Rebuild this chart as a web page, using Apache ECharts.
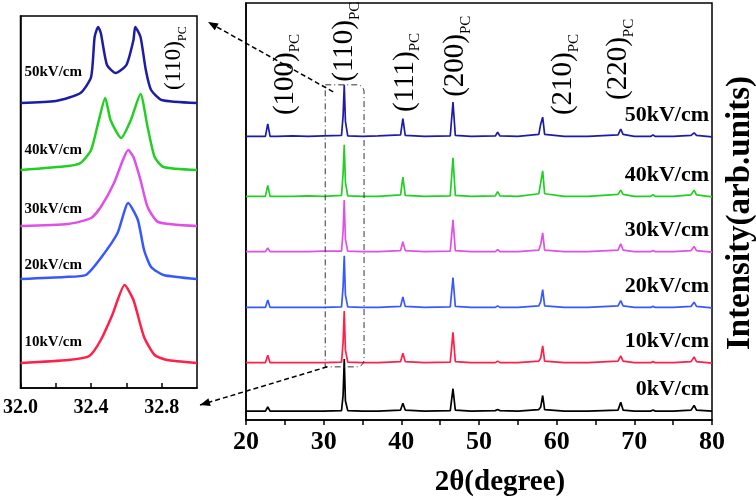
<!DOCTYPE html>
<html>
<head>
<meta charset="utf-8">
<script src="https://cdn.jsdelivr.net/npm/echarts/dist/echarts.min.js"></script>
<style>
html, body { margin: 0; padding: 0; background: #fff; }
#chart { width: 756px; height: 500px; }
</style>
</head>
<body>
<div id="chart"></div>
<script>
const serif = '"Liberation Serif", "Times New Roman", serif';

// 2θ sample points of the full patterns
const twoTheta = [20, 22.5, 22.8, 23.1, 24, 26, 28, 30,
  32.3, 32.5, 32.65, 32.8, 33.1, 35, 37,
  39.9, 40.2, 40.5, 43, 46.3, 46.65, 46.95, 49,
  52.1, 52.4, 52.7, 55, 57.7, 57.95, 58.2, 58.45, 61, 64,
  67.9, 68.25, 68.55, 70, 72.1, 72.4, 72.7, 75, 77.3, 77.7, 78.0, 80];

// relative intensity (%) per field
const int0  = [0,0,8,0,0,0,0,0, 1,30,100,20,1, 0,0, 2,15,2, 0, 1,43,2, 0, 1,3,1, 0, 3,8,30,3, 0,0, 2,17,2, 0, 0,2,0, 0, 2,11,2, 0];
const int10 = [1,1,15,1,1,1,1,1, 2,40,100,25,2, 1,1, 3,19,3, 1, 2,59,3, 1, 1,4,1, 1, 4,10,33,4, 1,1, 4,14,4, 1, 1,3,1, 1, 3,12,3, 0];
const int20 = [1,1,15,1,1,1,1,1, 2,40,100,25,2, 1,1, 3,21,3, 1, 2,58,3, 1, 1,4,1, 1, 4,12,35,4, 1,1, 4,14,4, 1, 1,3,1, 1, 3,11,3, 0];
const int30 = [1,1,8,1,1,1,1,2, 2,40,100,25,2, 1,1, 3,20,3, 1, 2,62,3, 1, 1,5,1, 1, 4,15,37,4, 1,1, 4,16,4, 1, 1,3,1, 1, 3,11,3, 0];
const int40 = [1,1,22,1,1,1,2,1, 3,45,100,28,2, 1,1, 4,38,3, 1, 2,75,3, 1, 2,10,2, 1, 6,28,50,6, 1,1, 5,13,5, 1, 1,4,1, 1, 4,13,4, 0];
const int50 = [1,1,25,1,1,2,1,2, 3,40,100,30,2, 1,2, 4,35,3, 1, 2,67,3, 1, 2,9,2, 1, 5,25,38,5, 1,1, 4,15,5, 1, 1,4,1, 1, 3,8,3, 0];

const mainOffsets = [17, 109, 215, 322, 428, 543];
const fieldNames = ['0kV/cm', '10kV/cm', '20kV/cm', '30kV/cm', '40kV/cm', '50kV/cm'];
const lineColors = ['#000000', '#ff1f48', '#3858ff', '#e050e8', '#22cf22', '#1c1ca6'];
const peakNames = ['(100)', '(110)', '(111)', '(200)', '(210)', '(220)'];

// inset: (110) peak zoom, 10..50 kV/cm
const insetX10 = [32.0, 32.27, 32.39, 32.455, 32.52, 32.59, 32.64, 32.70, 32.76, 32.83, 33.0];
const insetY10 = [0, 3, 7, 23, 48, 78, 63, 26, 8, 3, 0];
const insetX20 = [32.0, 32.25, 32.37, 32.455, 32.55, 32.61, 32.665, 32.70, 32.74, 32.81, 33.0];
const insetY20 = [0, 2, 4, 21, 46, 76, 59, 29, 12, 4, 0];
const insetX30 = [32.0, 32.27, 32.40, 32.455, 32.53, 32.58, 32.61, 32.64, 32.68, 32.72, 32.78, 33.0];
const insetY30 = [0, 2, 8, 19, 43, 66, 76, 69, 46, 19, 4, 0];
const insetX40 = [32.0, 32.27, 32.34, 32.40, 32.44, 32.48, 32.51, 32.57, 32.625, 32.68, 32.72, 32.76, 32.81, 33.0];
const insetY40 = [0, 4, 7, 20, 47, 72, 50, 32, 50, 76, 43, 13, 3, 0];
const insetX50 = [32.0, 32.2, 32.34, 32.40, 32.42, 32.44, 32.455, 32.49, 32.54, 32.60, 32.64, 32.65, 32.68, 32.71, 32.74, 32.80, 33.0];
const insetY50 = [0, 2, 10, 26, 66, 76, 70, 38, 30, 38, 63, 76, 66, 33, 13, 3, 0];
const insetOffsets = [25, 109, 162, 218, 285];
const insetNames = ['10kV/cm', '20kV/cm', '30kV/cm', '40kV/cm', '50kV/cm'];


var mainInts = [int0, int10, int20, int30, int40, int50];
var insetXs = [insetX10, insetX20, insetX30, insetX40, insetX50];
var insetYs = [insetY10, insetY20, insetY30, insetY40, insetY50];

var myChart = echarts.init(document.getElementById('chart'));

var series = [];
mainInts.forEach(function (arr, i) {
  series.push({
    name: fieldNames[i],
    type: 'line',
    xAxisIndex: 0,
    yAxisIndex: 0,
    symbol: 'none',
    lineStyle: { color: lineColors[i], width: 1.7 },
    data: twoTheta.map(function (t, k) { return [t, arr[k] + mainOffsets[i]]; })
  });
});
insetXs.forEach(function (xs, i) {
  series.push({
    name: 'inset ' + insetNames[i],
    type: 'line',
    xAxisIndex: 1,
    yAxisIndex: 1,
    symbol: 'none',
    smooth: 0.2,
    lineStyle: { color: lineColors[i + 1], width: 2.5 },
    data: xs.map(function (t, k) { return [t, insetYs[i][k] + insetOffsets[i]]; })
  });
});

var option = {
  animation: false,
  backgroundColor: '#fff',
  grid: [
    { left: 246, right: 44, top: 3, bottom: 80, show: true, borderColor: '#000', borderWidth: 1.5 },
    { left: 20, right: 559, top: 16, bottom: 112, show: true, borderColor: '#000', borderWidth: 1.5 }
  ],
  xAxis: [
    {
      gridIndex: 0, type: 'value', min: 20, max: 80, interval: 10,
      axisLine: { lineStyle: { color: '#000', width: 1.5 } },
      axisTick: { inside: false, length: 5, lineStyle: { color: '#000', width: 1.5 } },
      minorTick: { show: true, splitNumber: 2, length: 5, lineStyle: { color: '#000', width: 1.5 } },
      splitLine: { show: false },
      axisLabel: { color: '#000', fontFamily: serif, fontWeight: 'bold', fontSize: 26, margin: 9 }
    },
    {
      gridIndex: 1, type: 'value', min: 32, max: 33, interval: 0.2,
      axisLine: { lineStyle: { color: '#000', width: 1.5 } },
      axisTick: { inside: true, length: 5, lineStyle: { color: '#000', width: 1.5 } },
      splitLine: { show: false },
      axisLabel: {
        color: '#000', fontFamily: serif, fontWeight: 'bold', fontSize: 20, margin: 10,
        showMaxLabel: false,
        formatter: function (v) { return Math.round(v * 10) % 4 === 0 ? v.toFixed(1) : ''; }
      }
    }
  ],
  yAxis: [
    {
      gridIndex: 0, type: 'value', min: 0, max: 800,
      axisLine: { show: true, lineStyle: { color: '#000', width: 1.5 } },
      axisTick: { show: false }, axisLabel: { show: false }, splitLine: { show: false }
    },
    {
      gridIndex: 1, type: 'value', min: 0, max: 372,
      axisLine: { show: true, lineStyle: { color: '#000', width: 1.5 } },
      axisTick: { show: false }, axisLabel: { show: false }, splitLine: { show: false }
    }
  ],
  series: series
};
myChart.setOption(option);

// annotations, placed from data coordinates
function px(grid, pt) { return myChart.convertToPixel({ gridIndex: grid }, pt); }

function arrowHead(p0, p1, size) {
  var dx = p1[0] - p0[0], dy = p1[1] - p0[1];
  var L = Math.sqrt(dx * dx + dy * dy);
  var ux = dx / L, uy = dy / L, nx = -uy, ny = ux;
  return [
    [p1[0], p1[1]],
    [p1[0] - ux * size + nx * size * 0.4, p1[1] - uy * size + ny * size * 0.4],
    [p1[0] - ux * size - nx * size * 0.4, p1[1] - uy * size - ny * size * 0.4]
  ];
}

var g = [];

// peak labels (Miller indices), rotated
var peakLabelAt = [[24.5, 585], [32.2, 649], [39.95, 591], [46.5, 620], [60.4, 585], [67.4, 614]];
peakNames.forEach(function (n, i) {
  var p = px(0, peakLabelAt[i]);
  g.push({
    type: 'text', x: p[0] + 4, y: p[1], rotation: Math.PI / 2, z: 100,
    style: {
      text: '{a|' + n + '}{s|PC}',
      align: 'left', verticalAlign: 'middle',
      rich: {
        a: { fontFamily: serif, fontSize: 29, lineHeight: 36, fill: '#000' },
        s: { fontFamily: serif, fontSize: 15, lineHeight: 36, verticalAlign: 'bottom', fill: '#000' }
      }
    }
  });
});

// field labels in the main plot
fieldNames.forEach(function (n, i) {
  var p = px(0, [80, mainOffsets[i]]);
  g.push({
    type: 'text', x: p[0] - 3, y: p[1] - 22, z: 100,
    style: { text: n, align: 'right', verticalAlign: 'middle', fontFamily: serif, fontWeight: 'bold', fontSize: 22, fill: '#000' }
  });
});

// inset labels
var insetLift = [21, 14, 17, 20, 31];
insetNames.forEach(function (n, i) {
  var p = px(1, [32.0, insetOffsets[i] + insetLift[i]]);
  g.push({
    type: 'text', x: p[0] + 4, y: p[1], z: 100,
    style: { text: n, align: 'left', verticalAlign: 'middle', fontFamily: serif, fontWeight: 'bold', fontSize: 15, fill: '#000' }
  });
});
var ip = px(1, [32.8, 298]);
g.push({
  type: 'text', x: ip[0] + 12, y: ip[1], rotation: Math.PI / 2, z: 100,
  style: {
    text: '{a|(110)}{s|PC}', align: 'left', verticalAlign: 'middle',
    rich: {
      a: { fontFamily: serif, fontSize: 23, lineHeight: 30, fill: '#000' },
      s: { fontFamily: serif, fontSize: 12, lineHeight: 30, verticalAlign: 'bottom', fill: '#000' }
    }
  }
});

// dash-dot box round the (110) peak
var tl = px(0, [30.2, 643]);
var br = px(0, [35.2, 102]);
g.push({
  type: 'rect', z: 90,
  shape: { x: tl[0], y: tl[1], width: br[0] - tl[0], height: br[1] - tl[1], r: [0, 7, 7, 0] },
  style: { fill: 'none', stroke: '#333', lineWidth: 1, lineDash: [6, 3, 1, 3] }
});

// dashed arrows to the inset
var insetTR = px(1, [33, 372]);
var insetBR = px(1, [33, 0]);
var a1s = [tl[0] + 8, tl[1] + 7], a1e = [insetTR[0] + 11, insetTR[1] + 6];
var a2s = [tl[0] + 2, br[1]], a2e = [insetBR[0] + 3, insetBR[1] + 17];
[[a1s, a1e], [a2s, a2e]].forEach(function (a) {
  g.push({
    type: 'line', z: 95,
    shape: { x1: a[0][0], y1: a[0][1], x2: a[1][0], y2: a[1][1] },
    style: { stroke: '#000', lineWidth: 1.5, lineDash: [5, 3] }
  });
  g.push({ type: 'polygon', z: 95, shape: { points: arrowHead(a[0], a[1], 10) }, style: { fill: '#000' } });
});

// axis titles
g.push({
  type: 'text', x: 500, y: 483, z: 100,
  style: { text: '2θ(degree)', align: 'center', verticalAlign: 'middle', fontFamily: serif, fontWeight: 'bold', fontSize: 29, fill: '#000' }
});
g.push({
  type: 'text', x: 740, y: 213, rotation: Math.PI / 2, z: 100,
  style: { text: 'Intensity(arb.units)', align: 'center', verticalAlign: 'middle', fontFamily: serif, fontWeight: 'bold', fontSize: 33, fill: '#000' }
});

myChart.setOption({ graphic: g });
</script>
</body>
</html>
